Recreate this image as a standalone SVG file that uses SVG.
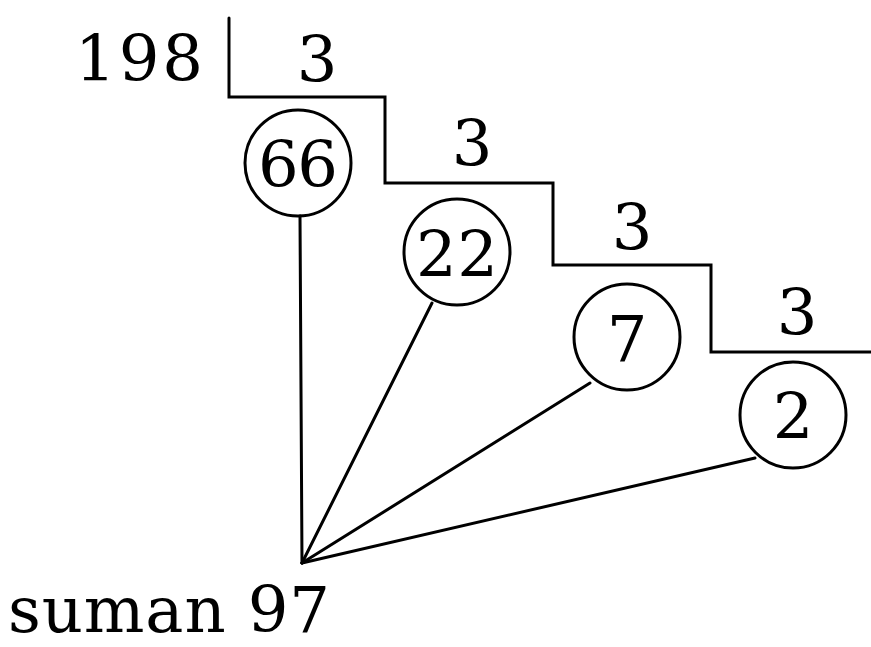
<svg xmlns="http://www.w3.org/2000/svg" width="871" height="647" viewBox="0 0 871 647">
<style>
text{font-family:"DejaVu Serif","Liberation Serif",serif;font-size:64px;fill:#000}
.c{fill:none;stroke:#000;stroke-width:3}
.l{fill:none;stroke:#000;stroke-width:3;stroke-linecap:round;stroke-linejoin:miter}
</style>
<rect width="871" height="647" fill="#fff"/>
<g id="division">
<text x="75" y="81" textLength="128" lengthAdjust="spacing">198</text>
<path class="l" d="M229,18 V97 H385 V183 H553 V265 H711 V352 H871"/>
<text x="317" y="82" text-anchor="middle">3</text>
<text x="472" y="166" text-anchor="middle">3</text>
<text x="632" y="250" text-anchor="middle">3</text>
<text x="797" y="335" text-anchor="middle">3</text>
</g>
<g id="connectors">
<path class="l" d="M300,216 L302,563"/>
<path class="l" d="M432,303 L302,563"/>
<path class="l" d="M590,383 L302,563"/>
<path class="l" d="M755,458 L302,563"/>
</g>
<g id="n66"><circle class="c" cx="298" cy="163" r="53"/><text x="298" y="187" text-anchor="middle" textLength="80" lengthAdjust="spacing">66</text></g>
<g id="n22"><circle class="c" cx="457" cy="252" r="53"/><text x="457" y="277" text-anchor="middle" textLength="82" lengthAdjust="spacing">22</text></g>
<g id="n7"><circle class="c" cx="627" cy="337" r="53"/><text x="627" y="361" text-anchor="middle">7</text></g>
<g id="n2"><circle class="c" cx="793" cy="415" r="53"/><text x="793" y="439" text-anchor="middle">2</text></g>
<g id="result"><text x="8" y="632" textLength="322" lengthAdjust="spacing">suman 97</text></g>
</svg>
